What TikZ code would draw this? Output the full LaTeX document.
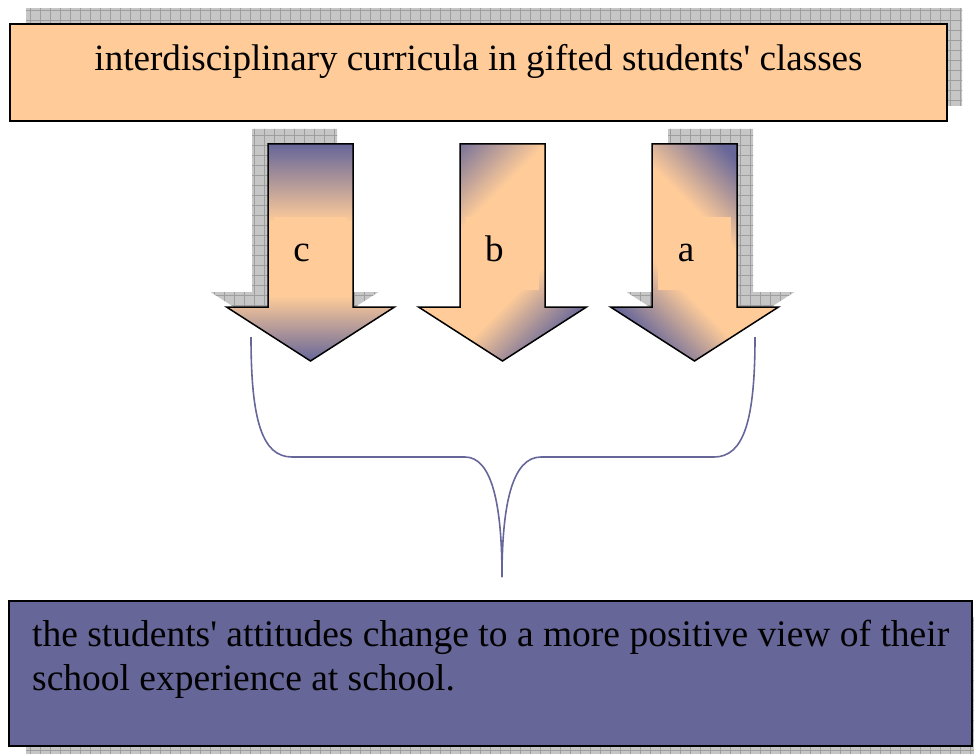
\documentclass[tikz,border=0pt]{standalone}
\usepackage{fontspec}
\setmainfont{Liberation Serif}
\definecolor{peach}{HTML}{FFCC99}
\definecolor{purp}{HTML}{666699}
\definecolor{shbg}{HTML}{C6C6C6}
\definecolor{shln}{HTML}{9E9E9E}
\pgfdeclareverticalshading{cshade}{100bp}{color(0bp)=(purp); color(25bp)=(purp); color(40bp)=(peach); color(57bp)=(peach); color(75bp)=(purp); color(100bp)=(purp)}
\pgfdeclareverticalshading{dshade}{100bp}{color(0bp)=(purp); color(25bp)=(purp); color(41bp)=(peach); color(58bp)=(peach); color(75bp)=(purp); color(100bp)=(purp)}
\pgfdeclareverticalshading{bshade}{100bp}{color(0bp)=(purp); color(24bp)=(purp); color(40bp)=(peach); color(62bp)=(peach); color(80bp)=(purp); color(100bp)=(purp)}
\def\arrowpts{(-42.5,144) -- (42.5,144) -- (42.5,307) -- (84,307) -- (0,361) -- (-84,307) -- (-42.5,307) -- cycle}
\newcommand\shgridfill{%
  \fill[shbg] (-200,-200) rectangle (1200,1000);
  \foreach \k in {-200,-190,...,1200}{%
    \draw[shln,line width=0.6pt] (\k,-200) -- (\k,1000);
    \draw[shln,line width=0.6pt] (-200,\k) -- (1200,\k);}}
\tikzset{
  box/.style={draw=black, line width=1.5pt, inner sep=0pt},
  bigtext/.style={font=\fontsize{37.1}{43.5}\selectfont, inner sep=0pt},
  bottext/.style={font=\fontsize{37.5}{43.5}\selectfont, inner sep=0pt},
  lblbox/.style={fill=peach, minimum width=73pt, minimum height=73pt, inner sep=0pt},
  lbltext/.style={font=\fontsize{37.1}{43.5}\selectfont, inner sep=0pt, anchor=base},
  arrowline/.style={draw=black, line width=1.5pt, line join=miter},
  bracestyle/.style={draw=purp, line width=1.6pt}
}
\begin{document}
\begin{tikzpicture}[x=1pt,y=-1pt]
\useasboundingbox (0,0) rectangle (974,754);
% shadows
\begin{scope}\clip (26,9) rectangle (962,106); \shgridfill\end{scope}
\begin{scope}\clip (26,617) rectangle (989,762); \shgridfill\end{scope}
\begin{scope}[shift={(294.5,-15)}]\clip \arrowpts; \shgridfill\end{scope}
\begin{scope}[shift={(710.5,-15)}]\clip \arrowpts; \shgridfill\end{scope}
% boxes
\node[box, fill=peach, minimum width=937pt, minimum height=97pt] (top) at (478.5,72.5) {};
\node[bigtext, anchor=base] (toptext) at (478.5,70.5) {interdisciplinary curricula in gifted students\textquotesingle{} classes};
\node[box, fill=purp, minimum width=963pt, minimum height=145pt] (bottom) at (490.5,673.5) {};
\node[bottext, anchor=north west, align=left] (bottext) at (32,620) {the students\textquotesingle{} attitudes change to a more positive view of their\\school experience at school.};
% arrows
\begin{scope}[shift={(310.5,0)}]
  \shade[shading=cshade] \arrowpts;
  \path[arrowline] \arrowpts;
\end{scope}
\begin{scope}[shift={(502.5,0)}]
  \shade[shading=bshade, shading angle=45] \arrowpts;
  \path[arrowline] \arrowpts;
\end{scope}
\begin{scope}[shift={(694.5,0)}]
  \shade[shading=dshade, shading angle=-45] \arrowpts;
  \path[arrowline] \arrowpts;
\end{scope}
\node[lblbox] (lc) at (310.5,253.5) {};
\node[lblbox] (lb) at (502.5,253.5) {};
\node[lblbox] (la) at (694.5,253.5) {};
\node[lbltext] (tc) at (301.5,261) {c};
\node[lbltext] (tb) at (494.5,261) {b};
\node[lbltext] (ta) at (686,261) {a};
% brace
\coordinate (bl) at (251,337);
\coordinate (br) at (755,337);
\coordinate (tip) at (502,577);
\draw[bracestyle] (bl) .. controls (251,420) and (262,457) .. (292,457) -- (465,457)
   .. controls (492,457) and (502,505) .. (tip);
\draw[bracestyle] (br) .. controls (755,420) and (744,457) .. (714,457) -- (541,457)
   .. controls (512,457) and (502,505) .. (tip);
\end{tikzpicture}
\end{document}
